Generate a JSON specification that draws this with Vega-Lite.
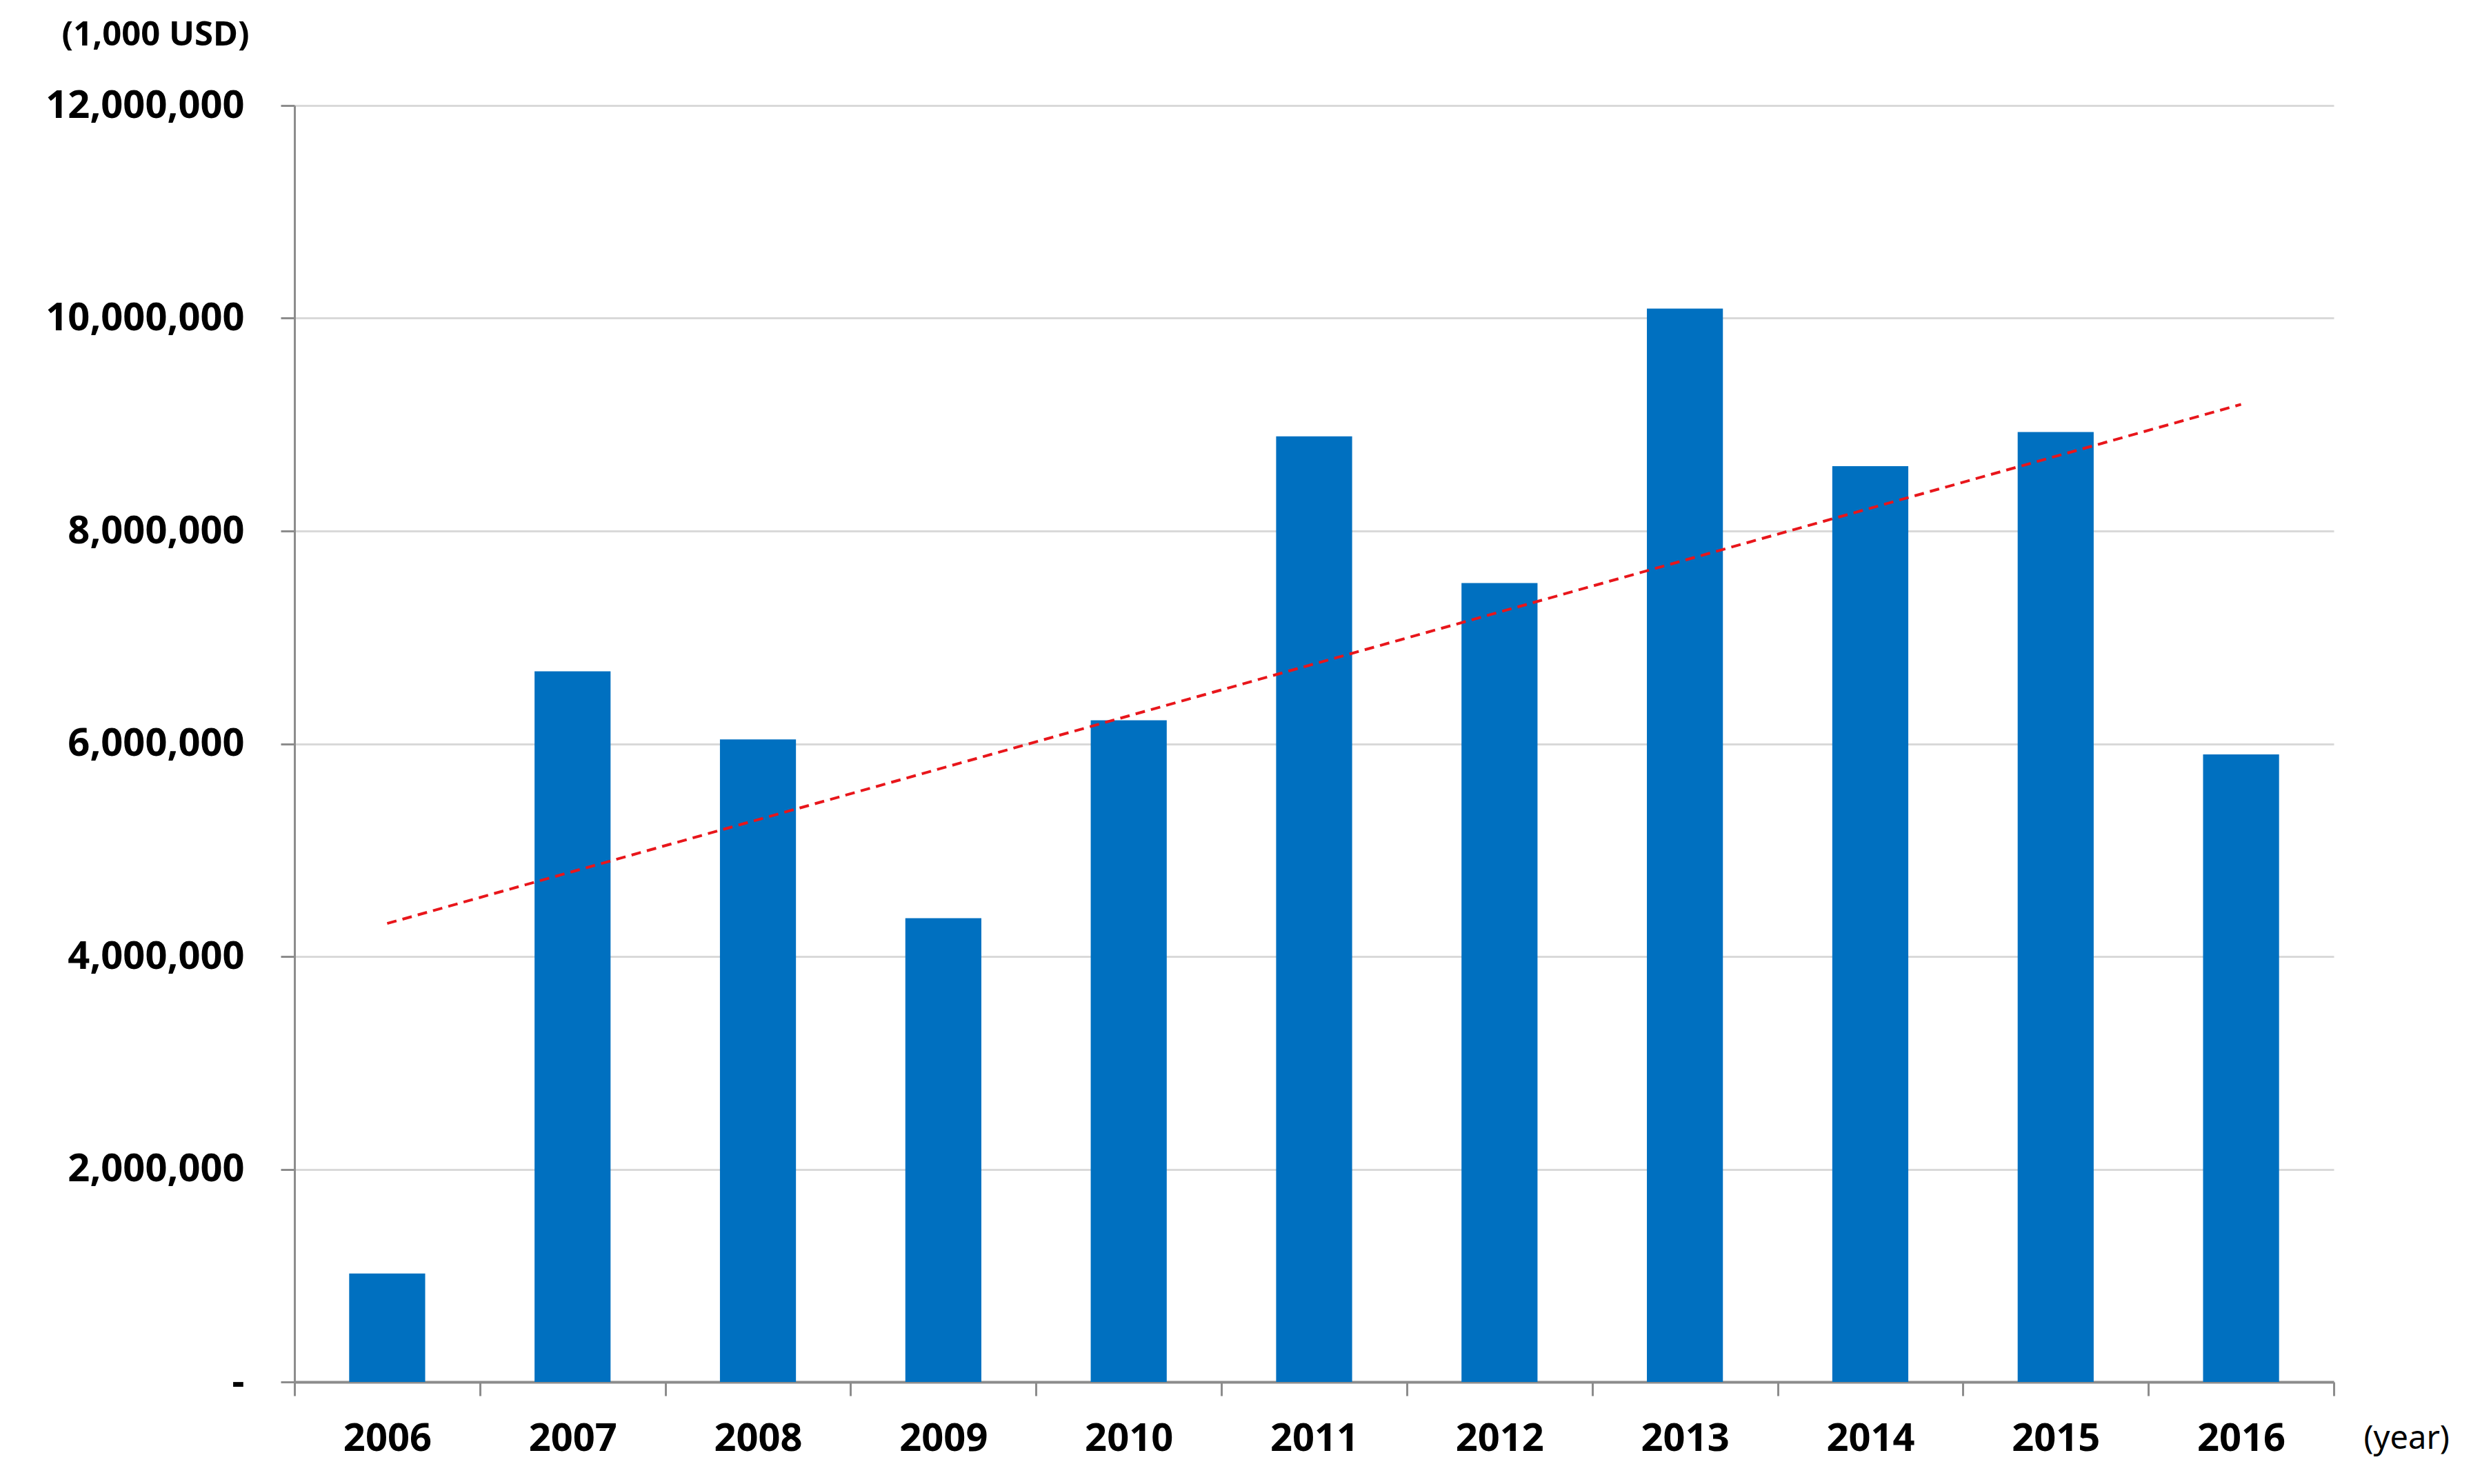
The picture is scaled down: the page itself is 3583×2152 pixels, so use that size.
{
  "$schema": "https://vega.github.io/schema/vega-lite/v6.json",
  "autosize": {"type": "none"},
  "width": 2957,
  "height": 1851,
  "padding": {"left": 427, "top": 153, "right": 199, "bottom": 148},
  "background": "white",
  "config": {
    "view": {"stroke": null},
    "font": "Noto Sans",
    "axis": {"labelFont": "Noto Sans", "titleFont": "Noto Sans", "labelLimit": 0}
  },
  "layer": [
    {
      "data": {
        "values": [
          {"year": "2006", "value": 1020000},
          {"year": "2007", "value": 6680000},
          {"year": "2008", "value": 6040000},
          {"year": "2009", "value": 4360000},
          {"year": "2010", "value": 6220000},
          {"year": "2011", "value": 8890000},
          {"year": "2012", "value": 7510000},
          {"year": "2013", "value": 10090000},
          {"year": "2014", "value": 8610000},
          {"year": "2015", "value": 8930000},
          {"year": "2016", "value": 5900000}
        ]
      },
      "mark": {"type": "bar", "color": "#0070C0", "width": {"band": 0.41}},
      "encoding": {
        "x": {
          "field": "year", "type": "ordinal",
          "scale": {"paddingInner": 0, "paddingOuter": 0},
          "axis": {
            "title": "(year)",
            "titleX": 3000, "titleY": 82, "titleAlign": "left", "titleBaseline": "middle",
            "titleFontSize": 47, "titleFontWeight": "normal", "titleColor": "#000000",
            "labelAngle": 0, "labelFontSize": 56, "labelFontWeight": "bold", "labelColor": "#000000",
            "labelBaseline": "middle", "labelPadding": 62,
            "tickBand": "extent", "tickSize": 20, "tickColor": "#8c8c8c", "tickWidth": 3,
            "domainColor": "#8c8c8c", "domainWidth": 4, "grid": false
          }
        },
        "y": {
          "field": "value", "type": "quantitative",
          "scale": {"domain": [0, 12000000]},
          "axis": {
            "values": [0, 2000000, 4000000, 6000000, 8000000, 10000000, 12000000],
            "labelExpr": "datum.value === 0 ? '-' : format(datum.value, ',')",
            "title": "(1,000 USD)",
            "titleAngle": 0, "titleX": -66, "titleY": -103, "titleAlign": "right", "titleBaseline": "middle",
            "titleFontSize": 49, "titleFontWeight": "bold", "titleColor": "#000000",
            "labelFontSize": 56, "labelFontWeight": "bold", "labelColor": "#000000", "labelPadding": 53,
            "tickSize": 20, "tickColor": "#8c8c8c", "tickWidth": 3,
            "domainColor": "#8c8c8c", "domainWidth": 3,
            "grid": true, "gridColor": "#d9d9d9", "gridWidth": 3
          }
        }
      }
    },
    {
      "data": {
        "values": [
          {"year": "2006", "trend": 4310000},
          {"year": "2016", "trend": 9190000}
        ]
      },
      "mark": {"type": "line", "color": "#e8161b", "strokeWidth": 4, "strokeDash": [14, 9]},
      "encoding": {
        "x": {"field": "year", "type": "ordinal"},
        "y": {"field": "trend", "type": "quantitative"}
      }
    }
  ]
}
